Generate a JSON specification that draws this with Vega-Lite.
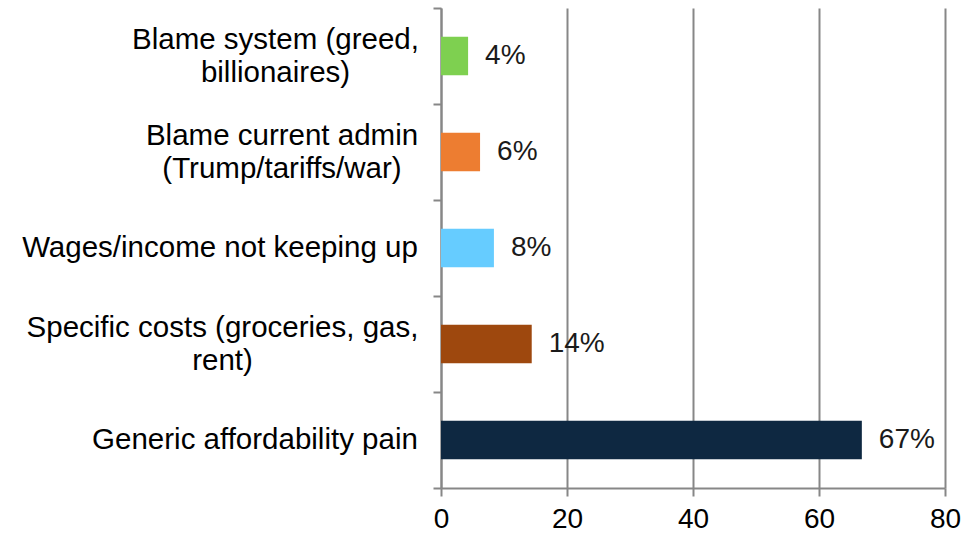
{
  "$schema": "https://vega.github.io/schema/vega-lite/v6.json",
  "width": 504,
  "height": 480,
  "autosize": {"type": "none"},
  "padding": {"left": 441, "top": 8, "right": 33, "bottom": 47},
  "background": "white",
  "config": {"view": {"stroke": null}, "font": "Liberation Sans"},
  "data": {
    "values": [
      {"cat": "Blame system (greed,|billionaires)", "value": 4.3, "label": "4%"},
      {"cat": "Blame current admin|(Trump/tariffs/war)", "value": 6.2, "label": "6%"},
      {"cat": "Wages/income not keeping up", "value": 8.4, "label": "8%"},
      {"cat": "Specific costs (groceries, gas,|rent)", "value": 14.4, "label": "14%"},
      {"cat": "Generic affordability pain", "value": 66.8, "label": "67%"}
    ]
  },
  "encoding": {
    "y": {
      "field": "cat",
      "type": "nominal",
      "sort": null,
      "scale": {"paddingInner": 0, "paddingOuter": 0},
      "axis": {
        "title": null,
        "labels": false,
        "tickBand": "extent",
        "domainColor": "#878787",
        "domainWidth": 2,
        "tickColor": "#878787",
        "tickWidth": 2,
        "tickSize": 8
      }
    }
  },
  "layer": [
    {
      "mark": {"type": "bar", "height": {"band": 0.4}},
      "encoding": {
        "x": {
          "field": "value",
          "type": "quantitative",
          "scale": {"domain": [0, 80], "nice": false},
          "axis": {
            "title": null,
            "values": [0, 20, 40, 60, 80],
            "grid": true,
            "gridColor": "#878787",
            "gridWidth": 2,
            "domainColor": "#878787",
            "domainWidth": 2,
            "tickColor": "#878787",
            "tickWidth": 2,
            "tickSize": 8,
            "labelFontSize": 28,
            "labelColor": "#000000",
            "labelPadding": 9,
            "labelFlush": false
          }
        },
        "color": {
          "field": "cat",
          "type": "nominal",
          "legend": null,
          "scale": {
            "domain": ["Blame system (greed,|billionaires)", "Blame current admin|(Trump/tariffs/war)", "Wages/income not keeping up", "Specific costs (groceries, gas,|rent)", "Generic affordability pain"],
            "range": ["#7ED050", "#ED7D31", "#66CCFF", "#9E480E", "#0E2841"]
          }
        }
      }
    },
    {
      "mark": {"type": "text", "align": "left", "baseline": "middle", "dx": 17, "fontSize": 28, "color": "#1a1a1a"},
      "encoding": {
        "x": {"field": "value", "type": "quantitative"},
        "text": {"field": "label"}
      }
    },
    {
      "mark": {
        "type": "text",
        "align": "center",
        "baseline": "middle",
        "fontSize": 29.5,
        "lineHeight": 33,
        "lineBreak": "|",
        "color": "#000000",
        "dy": {"expr": "indexof(datum.cat, '|') >= 0 ? -16.5 : 0"},
        "dx": {"expr": "datum.cat === 'Blame system (greed,|billionaires)' ? -165.5 : datum.cat === 'Blame current admin|(Trump/tariffs/war)' ? -159 : datum.cat === 'Wages/income not keeping up' ? -221 : datum.cat === 'Specific costs (groceries, gas,|rent)' ? -218.5 : -186"}
      },
      "encoding": {
        "x": {"datum": 0, "type": "quantitative"},
        "text": {"field": "cat"}
      }
    }
  ]
}
